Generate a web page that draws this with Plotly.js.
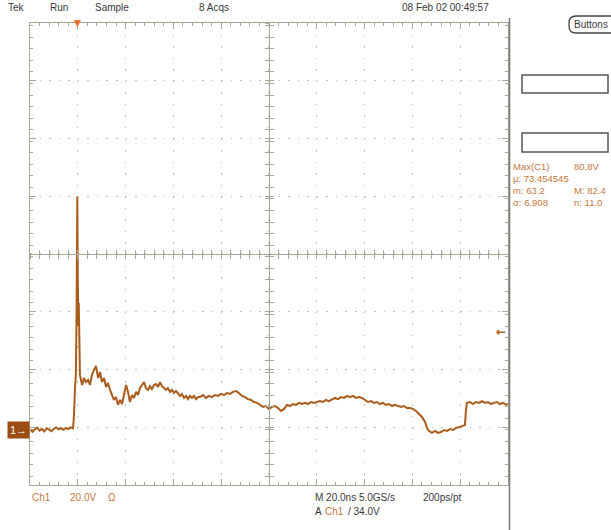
<!DOCTYPE html>
<html>
<head>
<meta charset="utf-8">
<script src="https://cdn.plot.ly/plotly-3.0.1.min.js"></script>
<style>html,body{margin:0;padding:0;background:#fff;}#chart{width:611px;height:530px;}</style>
</head>
<body>
<div id="chart"></div>
<script>
// ---- data (Ch1, 20 V/div, 20 ns/div) ----
const timeNs = [0,1,2,3,4,5,6,7,8,9,10,11,12,13,14,15,16,17,18,
  18.4,18.8,19.2,19.5,19.8,20.0,20.1,20.2,20.3,20.4,20.6,20.9,
  21.8,22.6,23.4,24.3,25.1,25.9,26.8,27.6,28.5,29.3,30.1,31.0,31.8,32.6,33.5,34.3,35.1,36.0,36.8,37.7,38.5,39.3,40.2,41.0,41.8,42.7,43.5,44.4,45.2,46.0,46.9,47.7,48.5,49.4,50.2,51.0,51.9,52.7,53.6,54.4,55.2,56.1,56.9,57.7,58.6,59.4,60.2,61.1,61.9,62.8,63.6,64.4,65.3,66.1,66.9,67.8,68.6,69.5,70.3,71.1,
  72.4,73.6,74.9,76.1,77.4,78.7,79.9,81.2,82.4,83.7,84.9,86.2,87.4,88.7,90.0,91.2,92.5,93.7,95.0,96.2,97.5,98.7,100.0,101.3,102.5,103.8,105.0,106.3,107.5,108.8,110.0,111.3,112.6,113.8,115.1,116.3,117.6,118.8,120.1,121.3,122.6,123.8,125.1,126.4,127.6,128.9,130.1,131.4,132.6,133.9,135.1,136.4,137.7,138.9,140.2,141.4,142.7,143.9,145.2,146.4,147.7,148.9,150.2,151.5,152.7,154.0,155.2,156.5,157.7,159.0,160.2,161.5,162.8,164.0,165.3,166.1,166.9,168.2,169.5,170.7,172.0,173.2,174.5,175.7,177.0,178.2,179.5,180.7,182.0,182.4,182.8,184.1,185.3,186.6,187.9,189.1,190.4,191.6,192.9,194.1,195.4,196.6,197.9,199.2,200];
const ch1Volts = [0.3,-0.6,0.2,0.8,-0.2,0.4,-0.5,0.6,0.1,-0.4,0.5,0.9,0.2,0.6,0.1,0.7,0.3,0.9,0.6,
  5,14,19.5,42,80.8,52,38,48,36,44,28,19.0,
  15.6,18.0,16.6,17.3,15.6,19.0,20.8,22.2,18.0,20.1,16.6,18.0,14.9,16.3,13.9,12.1,10.4,11.4,8.7,10.4,9.0,12.1,15.6,13.2,9.7,12.1,11.1,13.2,12.1,14.5,15.9,16.6,14.5,13.9,15.2,14.2,15.6,15.9,14.9,16.6,15.2,14.5,13.9,14.5,13.2,13.9,12.8,13.5,12.5,11.8,12.5,11.1,11.8,10.7,11.8,11.1,11.8,10.7,11.4,11.4,
  12.1,11.1,11.8,11.4,12.1,11.8,12.5,12.1,12.8,12.5,13.2,13.5,12.8,11.8,11.4,10.7,10.4,9.7,9.4,8.7,8.0,8.3,7.3,8.0,8.3,7.6,6.6,7.3,8.7,8.3,9.0,8.7,9.4,9.0,9.4,9.0,9.7,9.4,9.7,10.0,9.7,10.4,10.0,10.7,11.1,10.7,11.4,11.1,11.8,11.4,11.8,11.1,11.4,11.1,10.4,9.7,10.0,9.4,9.7,9.0,9.4,8.7,9.0,8.3,8.7,8.3,8.0,8.3,7.6,7.6,7.3,6.6,5.5,4.5,2.8,0.7,-0.3,-1.0,-0.3,-1.0,-0.7,0.0,-0.3,0.3,0.0,0.7,1.0,1.4,1.7,6.9,9.4,9.7,9.0,9.7,9.4,10.0,9.4,9.7,9.0,9.4,9.7,9.0,9.4,8.7,9.0];

const triggerTimeNs = [20];
const triggerLevelV = [34.0];
const headerLabels = ["Tek", "Run", "Sample", "8 Acqs", "08 Feb 02 00:49:57"];
const measureLabels = ["Max(C1)", "80.8V", "\u00b5: 73.454545", "m: 63.2", "M: 82.4", "\u03c3: 6.908", "n: 11.0"];
const footerLabels = ["Ch1", "20.0V", "\u03a9", "M 20.0ns 5.0GS/s", "200ps/pt", "A", "Ch1", "/ 34.0V"];

// ---- geometry helpers (pixel -> paper) ----
const L = 30, R = 508, T = 23, B = 485;
const X = px => (px - L) / (R - L);
const Y = py => (B - py) / (B - T);

const vCenter = 60.95, vHalf = 80;
const yRange = [vCenter - vHalf, vCenter + vHalf];

const gridCol = '#bdbdb0';
const tickCol = '#a8a898';
const font = 'Liberation Sans, Arial, sans-serif';
const dark = '#3a3a3a';
const orange = '#c4773c';

const trace = {
  x: timeNs, y: ch1Volts, type: 'scatter', mode: 'lines',
  line: {color: '#aa5c1c', width: 2}, hoverinfo: 'skip', showlegend: false
};

const baseX = {range: [0, 200], dtick: 20, tick0: 0, showticklabels: false, zeroline: false,
  fixedrange: true};
const baseY = {range: yRange, dtick: 20, tick0: vCenter, showticklabels: false, zeroline: false,
  fixedrange: true};

function ann(px, py, text, color, size, anchor) {
  return {xref: 'paper', yref: 'paper', x: X(px), y: Y(py), text: text, showarrow: false,
    xanchor: anchor || 'left', yanchor: 'middle', font: {family: font, size: size || 10, color: color || dark}};
}

const annotations = [
  ann(6, 8, headerLabels[0]), ann(48, 8, headerLabels[1]), ann(93, 8, headerLabels[2]),
  ann(197, 8, headerLabels[3]), ann(400, 8, headerLabels[4]),
  ann(572, 24.5, 'Buttons', dark, 10),
  ann(511, 166, measureLabels[0], orange, 9.5), ann(572, 166, measureLabels[1], orange, 9.5),
  ann(511, 178, measureLabels[2], orange, 9.5),
  ann(511, 190, measureLabels[3], orange, 9.5), ann(572, 190, measureLabels[4], orange, 9.5),
  ann(511, 202, measureLabels[5], orange, 9.5), ann(572, 202, measureLabels[6], orange, 9.5),
  ann(30, 497, footerLabels[0], orange), ann(68, 497, footerLabels[1], orange), ann(106, 497, footerLabels[2], orange),
  ann(313, 497, footerLabels[3]), ann(421, 497, footerLabels[4]),
  ann(313, 511, footerLabels[5]), ann(323, 511, footerLabels[6], orange), ann(346, 511, footerLabels[7]),
  // ground reference marker
  {xref: 'paper', yref: 'y', x: X(30), y: 0, text: '1\u2192', showarrow: false, xanchor: 'right', yanchor: 'middle',
    bgcolor: '#9c4d14', borderpad: 2, font: {family: font, size: 11, color: '#ffffff'}},
  // trigger position marker
  {xref: 'x', yref: 'paper', x: triggerTimeNs[0], y: 1, text: '\u25bc', showarrow: false, xanchor: 'center', yanchor: 'middle',
    font: {family: 'DejaVu Sans', size: 9, color: '#f06a20'}},
  // trigger level marker
  {xref: 'paper', yref: 'y', x: X(501), y: triggerLevelV[0], text: '<b>\u2190</b>', showarrow: false, xanchor: 'center', yanchor: 'middle',
    font: {family: 'DejaVu Sans', size: 12, color: '#b5651d'}}
];

function rr(x0, y0, x1, y1, r) {
  const a = X(x0), b = X(x1), c = Y(y0), d = Y(y1);
  const rx = r / (R - L), ry = r / (B - T);
  return `M ${a + rx} ${c} L ${b - rx} ${c} Q ${b} ${c} ${b} ${c - ry} L ${b} ${d + ry} Q ${b} ${d} ${b - rx} ${d} L ${a + rx} ${d} Q ${a} ${d} ${a} ${d + ry} L ${a} ${c - ry} Q ${a} ${c} ${a + rx} ${c} Z`;
}

const shapes = [
  {type: 'line', xref: 'paper', yref: 'paper', x0: X(509.5), x1: X(509.5), y0: Y(18), y1: Y(530),
    line: {color: '#7a7a7a', width: 1.5}},
  {type: 'rect', xref: 'paper', yref: 'paper', x0: X(522), x1: X(608), y0: Y(75), y1: Y(93),
    line: {color: '#555555', width: 1.5}},
  {type: 'rect', xref: 'paper', yref: 'paper', x0: X(522), x1: X(608), y0: Y(133), y1: Y(152),
    line: {color: '#555555', width: 1.5}},
  {type: 'path', xref: 'paper', yref: 'paper', path: rr(569, 16, 620, 33, 7),
    line: {color: '#444444', width: 1.3}}
];

const layout = {
  width: 611, height: 530,
  margin: {l: L, r: 611 - R, t: T, b: 530 - B, pad: 0},
  paper_bgcolor: '#ffffff', plot_bgcolor: '#ffffff',
  showlegend: false,
  xaxis: Object.assign({}, baseX, {
    showgrid: true, gridcolor: gridCol, gridwidth: 1.3, griddash: '1.5px,10.05px',
    showline: true, linecolor: tickCol, linewidth: 1, mirror: 'ticks',
    ticks: 'inside', ticklen: 6, tickcolor: tickCol, tickwidth: 1,
    minor: {dtick: 4, ticks: 'inside', ticklen: 3, tickcolor: tickCol, showgrid: false}
  }),
  yaxis: Object.assign({}, baseY, {
    showgrid: true, gridcolor: gridCol, gridwidth: 1.3, griddash: '1.5px,8.06px',
    showline: true, linecolor: tickCol, linewidth: 1, mirror: 'ticks',
    ticks: 'inside', ticklen: 6, tickcolor: tickCol, tickwidth: 1,
    minor: {dtick: 4, ticks: 'inside', ticklen: 3, tickcolor: tickCol, showgrid: false}
  }),
  // center crosshair with graticule ticks
  xaxis2: Object.assign({}, baseX, {overlaying: 'x', anchor: 'free', position: 0.5, showgrid: false,
    showline: true, linecolor: tickCol, ticks: 'inside', ticklen: 4, tickcolor: tickCol,
    minor: {dtick: 4, ticks: 'inside', ticklen: 4, tickcolor: tickCol}}),
  xaxis3: Object.assign({}, baseX, {overlaying: 'x', anchor: 'free', position: 0.5, showgrid: false,
    showline: false, ticks: 'outside', ticklen: 4, tickcolor: tickCol,
    minor: {dtick: 4, ticks: 'outside', ticklen: 4, tickcolor: tickCol}}),
  yaxis2: Object.assign({}, baseY, {overlaying: 'y', anchor: 'free', position: 0.5, showgrid: false,
    showline: true, linecolor: tickCol, ticks: 'inside', ticklen: 4, tickcolor: tickCol,
    minor: {dtick: 4, ticks: 'inside', ticklen: 4, tickcolor: tickCol}}),
  yaxis3: Object.assign({}, baseY, {overlaying: 'y', anchor: 'free', position: 0.5, showgrid: false,
    showline: false, ticks: 'outside', ticklen: 4, tickcolor: tickCol,
    minor: {dtick: 4, ticks: 'outside', ticklen: 4, tickcolor: tickCol}}),
  annotations: annotations,
  shapes: shapes
};

const helpers = [
  {x: [0], y: [vCenter], xaxis: 'x2', yaxis: 'y2', type: 'scatter', mode: 'markers', marker: {opacity: 0}, hoverinfo: 'skip'},
  {x: [0], y: [vCenter], xaxis: 'x3', yaxis: 'y3', type: 'scatter', mode: 'markers', marker: {opacity: 0}, hoverinfo: 'skip'}
];

Plotly.newPlot('chart', helpers.concat([trace]), layout, {displayModeBar: false, staticPlot: true});
</script>
</body>
</html>
